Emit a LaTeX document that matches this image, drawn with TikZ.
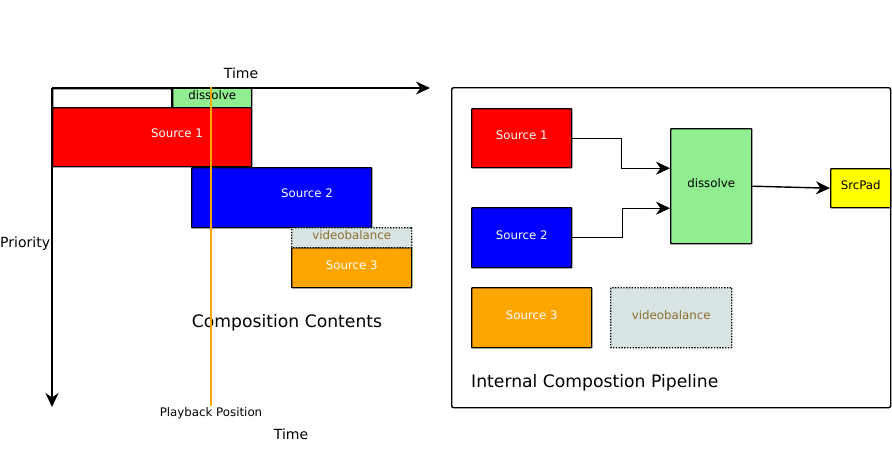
\documentclass[tikz,border=0pt]{standalone}
\usepackage{fontspec}
\setmainfont{DejaVu Sans}
\usepackage{tikz}
\usetikzlibrary{arrows.meta,positioning,calc}
\definecolor{srcRed}{RGB}{255,0,0}
\definecolor{srcBlue}{RGB}{0,0,255}
\definecolor{srcOrange}{RGB}{255,165,0}
\definecolor{dissGreen}{RGB}{144,238,144}
\definecolor{padYellow}{RGB}{255,255,0}
\definecolor{vbFill}{RGB}{216,228,228}
\definecolor{vbText}{RGB}{140,112,45}
\tikzset{
  box/.style={draw, line width=1.4pt, rounded corners=0.6pt, inner sep=0pt, anchor=north west,
    font=\fontsize{11.8}{13}\selectfont, text height=8.5pt, text depth=5.5pt},
  vbox/.style={box, fill=vbFill, text=vbText, dash pattern=on 1.4pt off 1.4pt},
  small/.style={font=\fontsize{11.8}{13}\selectfont},
  mid/.style={font=\fontsize{14}{16}\selectfont},
  big/.style={font=\fontsize{17.2}{19}\selectfont},
}
\begin{document}
\begin{tikzpicture}[x=1pt, y=-1pt, >={Stealth[length=14pt, width=13pt, inset=4.5pt]}]
\useasboundingbox (0,0) rectangle (892,448);

% composition contents (timeline)
\coordinate (origin) at (52,88);
\coordinate (tend) at (430,88);
\coordinate (pend) at (52,407);
\node[box, minimum width=119pt, minimum height=19pt] (lempty) at (52,88) {};
\node[box, fill=dissGreen, minimum width=79pt, minimum height=20pt] (ldiss) at (172,87) {dissolve};
\node[box, fill=srcRed, minimum width=199pt, minimum height=59pt] (lsrc1) at (52,107) {};
\node[small, text=white] (lsrc1txt) at (177,133) {Source 1};
\node[box, fill=srcBlue, minimum width=180pt, minimum height=60pt] (lsrc2) at (191,167) {};
\node[small, text=white] (lsrc2txt) at (307,193) {Source 2};
\node[box, fill=srcOrange, minimum width=120pt, minimum height=40pt, text=white] (lsrc3) at (291,247) {Source 3};
\node[vbox, minimum width=120pt, minimum height=20pt] (lvb) at (291,227) {videobalance};
\draw[->, line width=1.8pt] (origin) -- (tend);
\draw[->, line width=1.8pt] (origin) -- (pend);
\node[mid] (ttop) at (241,73) {Time};
\node[mid, anchor=west, inner sep=0pt] (prio) at (0,244) {Priority};
\node[big] (ctitle) at (287,323) {Composition Contents};
\node[small] (ppos) at (211,413.5) {Playback Position};
\node[mid] (tbot) at (291,434) {Time};
\coordinate (ptop) at (211,87);
\coordinate (pbot) at (211,406);
\draw[srcOrange, line width=2pt] (ptop) -- (pbot);

% internal pipeline
\node[box, minimum width=439pt, minimum height=320pt, rounded corners=2pt] (frame) at (451,87) {};
\node[box, fill=srcRed, minimum width=100pt, minimum height=59pt, text=white] (rsrc1) at (471,108) {Source 1};
\node[box, fill=srcBlue, minimum width=100pt, minimum height=60pt, text=white] (rsrc2) at (471,207) {Source 2};
\node[box, fill=dissGreen, minimum width=81pt, minimum height=115pt] (rdiss) at (670,128) {dissolve};
\node[box, fill=padYellow, minimum width=60pt, minimum height=39pt] (rpad) at (830,168) {SrcPad};
\node[box, fill=srcOrange, minimum width=120pt, minimum height=60pt, text=white] (rsrc3) at (471,287) {Source 3};
\node[vbox, minimum width=121pt, minimum height=60pt] (rvb) at (610,287) {videobalance};
\node[big, anchor=west, inner sep=0pt] (ptitle) at (471,383) {Internal Compostion Pipeline};
\draw[->, line width=1.4pt] (rsrc1.east) -- ++(49,0) |- ([yshift=18pt]rdiss.west);
\draw[->, line width=1.4pt] (rsrc2.east) -- ++(50,0) |- ([yshift=-22pt]rdiss.west);
\draw[->, line width=1.4pt] (rdiss.east) -- (rpad.west);
\end{tikzpicture}
\end{document}
